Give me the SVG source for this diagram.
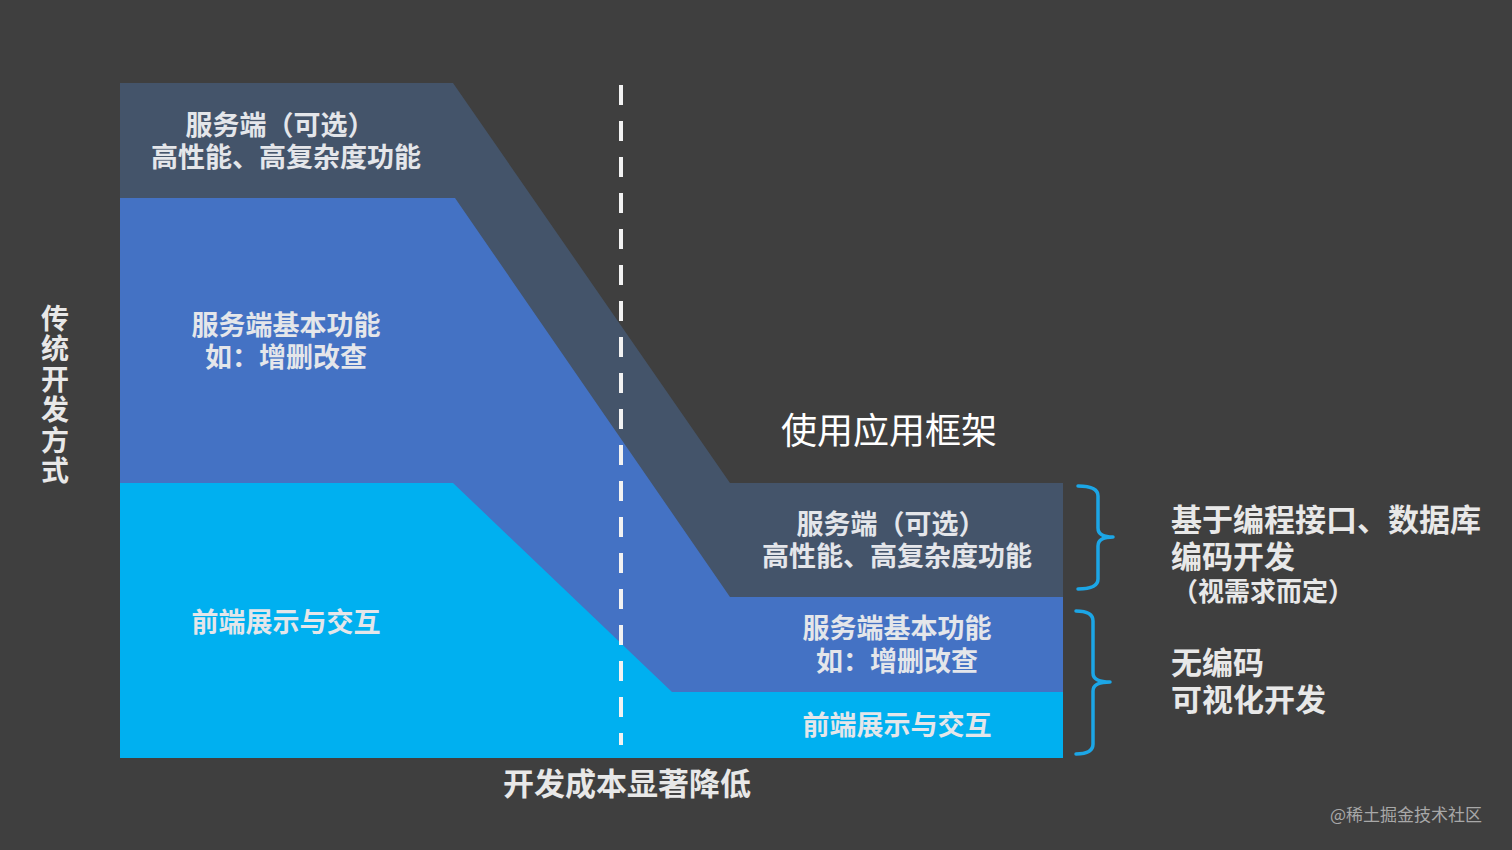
<svg xmlns="http://www.w3.org/2000/svg" width="1512" height="850" viewBox="0 0 1512 850">
<style>
  .lbl{font-family:"Liberation Sans","Noto Sans CJK SC",sans-serif;font-weight:700;fill:#e4e6ea;text-anchor:middle;dominant-baseline:central}
  .side{font-family:"Liberation Sans","Noto Sans CJK SC",sans-serif;font-weight:700;fill:#e8e8e8;dominant-baseline:central}
  .brace{fill:none;stroke:#1ca6e6;stroke-width:3.5;stroke-linecap:round;stroke-linejoin:round}
</style>
<rect width="1512" height="850" fill="#3f3f3f"/>
<g id="layers">
  <polygon id="layer-server-optional" points="120,83 453,83 730,483 1063,483 1063,758 120,758" fill="#44546a"/>
  <polygon id="layer-server-basic" points="120,198 455,198 730,597 1063,597 1063,758 120,758" fill="#4472c4"/>
  <polygon id="layer-frontend" points="120,483 453,483 672,692 1063,692 1063,758 120,758" fill="#00b0f0"/>
</g>
<g id="connectors">
  <line x1="621" y1="85" x2="621" y2="745" stroke="#f2f2f2" stroke-width="4" stroke-dasharray="20 16"/>
  <path class="brace" d="M1078,486 Q1098,486 1098,496 L1098,528 Q1098,537 1113,537 Q1098,537 1098,546 L1098,579 Q1098,589 1078,589"/>
  <path class="brace" d="M1076,611 Q1093,611 1093,621 L1093,673 Q1093,682 1110,682 Q1093,682 1093,691 L1093,744 Q1093,754 1076,754"/>
</g>
<g id="left-server-optional">
  <text class="lbl" font-size="27"><tspan x="280" y="126">服务端（可选）</tspan><tspan x="286" y="158">高性能、高复杂度功能</tspan></text>
</g>
<g id="left-server-basic">
  <text class="lbl" font-size="27"><tspan x="286" y="326">服务端基本功能</tspan><tspan x="286" y="358">如：增删改查</tspan></text>
</g>
<g id="left-frontend">
  <text class="lbl" x="286" y="623" font-size="27">前端展示与交互</text>
</g>
<g id="right-server-optional">
  <text class="lbl" font-size="27"><tspan x="891" y="525">服务端（可选）</tspan><tspan x="897" y="557">高性能、高复杂度功能</tspan></text>
</g>
<g id="right-server-basic">
  <text class="lbl" font-size="27"><tspan x="897" y="629">服务端基本功能</tspan><tspan x="897" y="662">如：增删改查</tspan></text>
</g>
<g id="right-frontend">
  <text class="lbl" x="897" y="726" font-size="27">前端展示与交互</text>
</g>
<g id="title-framework">
  <text x="889" y="428" font-size="36" fill="#ffffff" text-anchor="middle" dominant-baseline="central" font-family="Noto Sans CJK SC, Noto Sans, sans-serif">使用应用框架</text>
</g>
<g id="title-traditional">
  <text x="55" y="304" font-size="28" font-weight="700" fill="#e8e8e8" font-family="Noto Sans CJK SC, Noto Sans, sans-serif" writing-mode="vertical-rl" letter-spacing="2.5">传统开发方式</text>
</g>
<g id="axis-label">
  <text class="side" x="627" y="784" font-size="31" text-anchor="middle">开发成本显著降低</text>
</g>
<g id="note-coding">
  <text class="side" font-size="31"><tspan x="1171" y="520">基于编程接口、数据库</tspan><tspan x="1171" y="557">编码开发</tspan><tspan x="1172" y="592" font-size="26">（视需求而定）</tspan></text>
</g>
<g id="note-nocode">
  <text class="side" font-size="31"><tspan x="1171" y="663">无编码</tspan><tspan x="1171" y="700">可视化开发</tspan></text>
</g>
<g id="watermark">
  <text x="1406" y="813" font-size="17" fill="#a8a8a8" text-anchor="middle" dominant-baseline="central" font-family="Noto Sans CJK SC, Noto Sans, sans-serif">@稀土掘金技术社区</text>
</g>
</svg>
